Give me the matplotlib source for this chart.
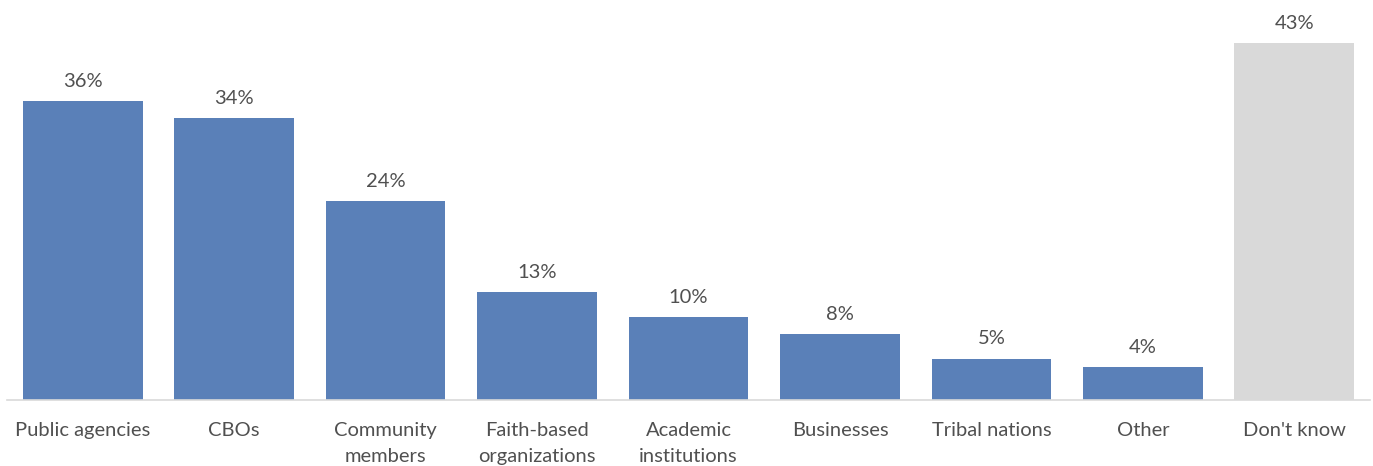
import matplotlib.pyplot as plt
import numpy as np

categories = ["Public agencies", "CBOs", "Community\nmembers", "Faith-based\norganizations",
              "Academic\ninstitutions", "Businesses", "Tribal nations", "Other", "Don't know"]
values = [36, 34, 24, 13, 10, 8, 5, 4, 43]

blue = "#5a80b8"
grey = "#d9d9d9"
txt = "#505050"
colors = [blue] * 8 + [grey]

plt.rcParams['font.family'] = ['Lato', 'DejaVu Sans']

fig = plt.figure(figsize=(13.73, 4.66), dpi=100)
ax = fig.add_axes([7 / 1373, 66 / 466, 1363 / 1373, 390 / 466])

x = np.arange(len(values))
bars = ax.bar(x, values, width=0.79, color=colors)

for xi, v in zip(x, values):
    ax.annotate(f"{v}%", (xi, v), xytext=(0, 8), textcoords="offset points",
                ha="center", va="bottom", fontsize=14.5, color=txt)

ax.set_xlim(-0.5, 8.5)
ax.set_ylim(0, 47)
ax.set_xticks(x)
ax.set_xticklabels(categories, fontsize=14.5, color=txt, linespacing=1.7, va="top")
ax.tick_params(axis="x", length=0, pad=15.5)
ax.set_yticks([])
for s in ["top", "right", "left"]:
    ax.spines[s].set_visible(False)
ax.spines["bottom"].set_color("#d9d9d9")
ax.spines["bottom"].set_linewidth(1.2)

fig.savefig("out.png", dpi=100)
